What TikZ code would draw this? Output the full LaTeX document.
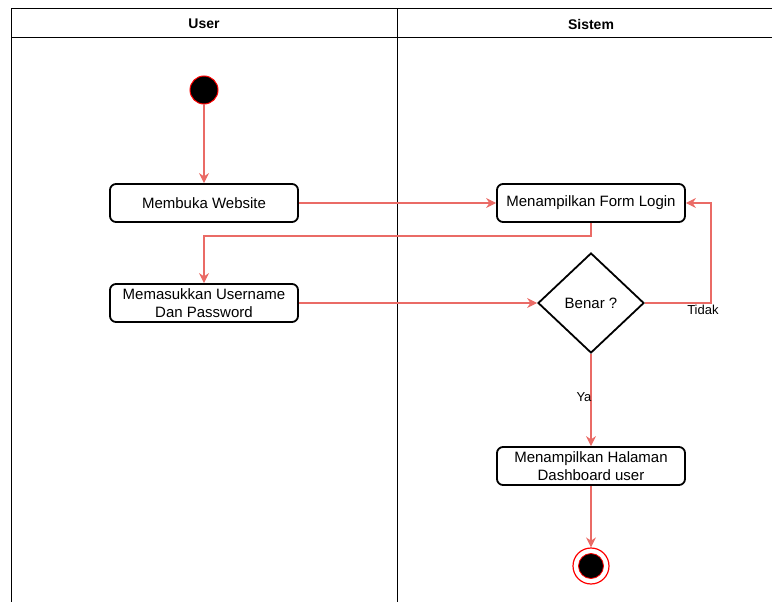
\documentclass[tikz,border=0pt]{standalone}
\usepackage{fontspec}
\setmainfont{Liberation Sans}
\usetikzlibrary{shapes.geometric,arrows.meta}
\definecolor{linkred}{RGB}{234,107,102}
\tikzset{
    lane/.style={draw=black, line width=1pt},
    act/.style={draw, rectangle, rounded corners=6pt, line width=1.8pt, minimum width=188pt, minimum height=38pt, inner sep=1pt, align=center, font=\fontsize{15}{17.5}\selectfont},
    flow/.style={draw=linkred, line width=1.2pt, -{Stealth[length=10pt,width=10pt]}},
    cond/.style={draw, diamond, line width=1.8pt, minimum width=106pt, minimum height=100pt, inner sep=0pt, font=\fontsize{15}{17.5}\selectfont},
    lbl/.style={font=\fontsize{13}{15}\selectfont, inner sep=1pt}
}
\begin{document}
\begin{tikzpicture}[x=1pt,y=-1pt]
    \useasboundingbox (0,0) rectangle (772,602);
    % swimlanes
    \draw[lane] (11,602) -- (11,9) -- (772,9);
    \draw[lane] (11,38) -- (772,38);
    \draw[lane] (397,9) -- (397,602);
    \node[font=\bfseries\fontsize{14}{16}\selectfont] (hUser) at (204,24) {User};
    \node[font=\bfseries\fontsize{14}{16}\selectfont] (hSistem) at (591,24) {Sistem};
    % start
    \node[circle, fill=black, draw=red, line width=1pt, minimum size=28pt, inner sep=0pt] (start) at (204,90) {};
    % activities
    \node[act] (web) at (204,203) {Membuka Website};
    \node[act] (form) at (591,203) {Menampilkan Form Login};
    \node[act] (input) at (204,303) {Memasukkan Username\\Dan Password};
    \node[cond] (cek) at (591,303) {Benar ?};
    \node[act] (dash) at (591,466) {Menampilkan Halaman\\Dashboard user};
    % end
    \node[circle, draw=red, line width=1.2pt, minimum size=36pt, inner sep=0pt] (end) at (591,566) {};
    \node[circle, fill=black, draw=red, line width=0.8pt, minimum size=25pt, inner sep=0pt] (endIn) at (591,566) {};
    % flows
    \draw[flow] (start) -- (web);
    \draw[flow] (web) -- (form);
    \draw[flow] (form.south) -- ++(0,13) -| (input.north);
    \draw[flow] (input) -- (cek);
    \draw[flow] (cek.east) -- ++(66,0) node[lbl, fill=white, xshift=-8pt, yshift=-7pt] {Tidak} |- (form.east);
    \draw[flow] (cek) -- node[lbl, xshift=-7pt, pos=0.47] {Ya} (dash);
    \draw[flow] (dash) -- (end);
\end{tikzpicture}
\end{document}
